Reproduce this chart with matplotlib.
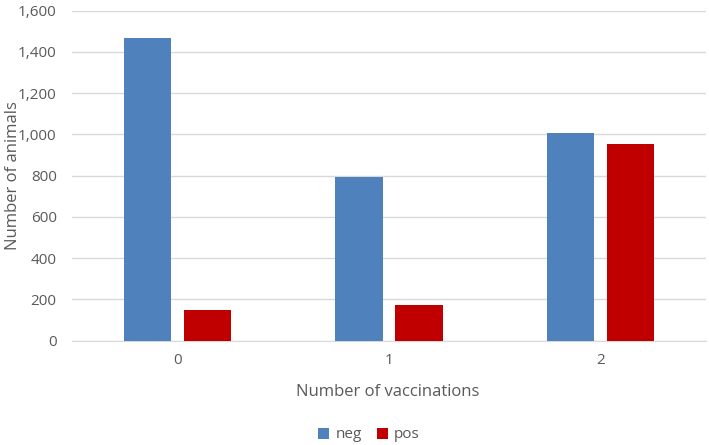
import numpy as np
import matplotlib.pyplot as plt
from matplotlib.ticker import FuncFormatter

categories = ['0', '1', '2']
neg = [1467, 793, 1005]
pos = [150, 175, 952]

plt.rcParams['font.family'] = ['Open Sans', 'DejaVu Sans']
txt = '#595959'

fig = plt.figure(figsize=(7.09, 4.45), dpi=100)
ax = fig.add_axes([72 / 709, 1 - 340.7 / 445, 634 / 709, 330 / 445])

x = np.arange(len(categories))
w = 0.223
off = 0.142
ax.bar(x - off, neg, w, color='#4F81BD', label='neg', zorder=3)
ax.bar(x + off, pos, w, color='#C00000', label='pos', zorder=3)

ax.set_xlim(-0.5, 2.5)
ax.set_ylim(0, 1600)
ax.set_yticks(np.arange(0, 1601, 200))
ax.yaxis.set_major_formatter(FuncFormatter(lambda v, p: f'{int(v):,}'))
ax.set_xticks(x)
ax.set_xticklabels(categories)
ax.grid(axis='y', color='#D9D9D9', linewidth=1, zorder=0)
for s in ['top', 'right', 'left']:
    ax.spines[s].set_visible(False)
ax.spines['bottom'].set_color('#D9D9D9')
ax.tick_params(length=0, colors=txt, labelsize=11)
ax.tick_params(axis='x', pad=9)
ax.tick_params(axis='y', pad=11)

ax.set_xlabel('Number of vaccinations', color=txt, fontsize=12)
ax.set_ylabel('Number of animals', color=txt, fontsize=12)
ax.xaxis.set_label_coords(0.5 - 1 / 634, -0.131)
ax.yaxis.set_label_coords(-0.081, 0.5)

ax.legend(loc='center', bbox_to_anchor=(0.5 - 20 / 634, (340.7 - 435) / 330), ncol=2, frameon=False,
          fontsize=11, labelcolor=txt, handlelength=0.7, handleheight=0.7,
          handletextpad=0.4, columnspacing=1.0)

fig.savefig('out.png', dpi=100)
